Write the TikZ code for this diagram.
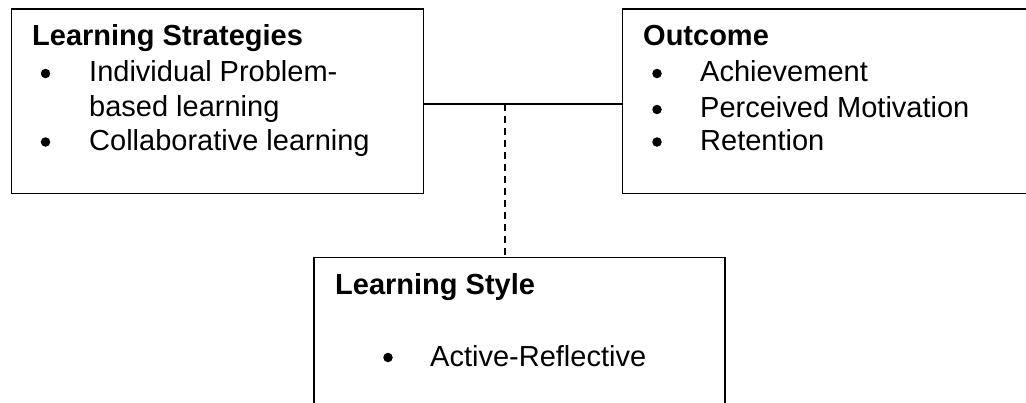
\documentclass[tikz,border=0pt]{standalone}
\usepackage{fontspec}
\setmainfont{Liberation Sans}
\begin{document}
\begin{tikzpicture}[x=1pt,y=-1pt,
  box/.style={draw,line width=1.6pt},
  head/.style={anchor=base west,inner sep=0pt,font=\fontsize{29}{34}\selectfont\bfseries},
  item/.style={anchor=base west,inner sep=0pt,font=\fontsize{29}{34}\selectfont},
  bul/.style={circle,fill,inner sep=0pt,minimum size=9.5pt},
  link/.style={line width=1.3pt},
  dlink/.style={line width=1.3pt,dash pattern=on 7pt off 5pt}]
\useasboundingbox (0,0) rectangle (1026,402);
% boxes
\node[box,anchor=north west,minimum width=412pt,minimum height=184.5pt,inner sep=0pt] (ls) at (10.5,8.3) {};
\node[box,anchor=north west,minimum width=420pt,minimum height=184.5pt,inner sep=0pt] (oc) at (621.7,8.3) {};
\node[box,anchor=north west,minimum width=411pt,minimum height=170pt,inner sep=0pt] (st) at (313,256.7) {};
% Learning Strategies text
\node[head] (t1) at (32,45) {Learning Strategies};
\node[bul] (b1) at (45.5,73.5) {};
\node[item] (t2) at (89,81.7) {Individual Problem-};
\node[item] (t3) at (89,116.5) {based learning};
\node[bul] (b2) at (45.5,142) {};
\node[item] (t4) at (89,150.5) {Collaborative learning};
% Outcome text
\node[head] (o1) at (643,45.7) {Outcome};
\node[bul] (ob1) at (657,73.5) {};
\node[item] (o2) at (700,81.7) {Achievement};
\node[bul] (ob2) at (657,109.5) {};
\node[item] (o3) at (700,117.5) {Perceived Motivation};
\node[bul] (ob3) at (657,142) {};
\node[item] (o4) at (700,150.5) {Retention};
% Learning Style text
\node[head] (s1) at (335,294.5) {Learning Style};
\node[bul] (sb1) at (388,357.5) {};
\node[item] (s2) at (430,366) {Active-Reflective};
% connectors
\coordinate (j) at (505,104);
\draw[link] (ls.east |- j) -- (oc.west |- j);
\draw[dlink] (j) -- (j |- st.north);
\end{tikzpicture}
\end{document}
